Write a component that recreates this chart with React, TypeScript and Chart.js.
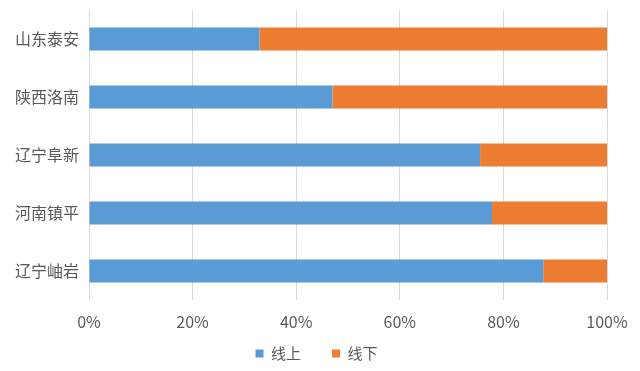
import React, { useEffect, useRef } from "react";
import { Chart, registerables } from "chart.js";

Chart.register(...registerables);

const categories = ["山东泰安", "陕西洛南", "辽宁阜新", "河南镇平", "辽宁岫岩"];
const onlineValues = [32.9, 47.0, 75.5, 77.8, 87.7];
const offlineValues = [67.1, 53.0, 24.5, 22.2, 12.3];
const seriesNames = ["线上", "线下"];
const xTicks = [0, 20, 40, 60, 80, 100];

const FONT = '"Noto Sans CJK SC", "Noto Sans", sans-serif';
const TEXT = "#595959";

const legendPlacer = {
  id: "legendPlacer",
  afterLayout(chart: any) {
    const lg = chart.legend;
    if (!lg) return;
    const dx = 13;
    const newTop = 315;
    lg.left += dx;
    lg.right += dx;
    const h = lg.bottom - lg.top;
    lg.top = newTop;
    lg.bottom = newTop + h;
  },
};

export default function App() {
  const ref = useRef<HTMLCanvasElement | null>(null);
  useEffect(() => {
    if (!ref.current) return;
    const chart = new Chart(ref.current, {
      type: "bar",
      data: {
        labels: categories,
        datasets: [
          { label: seriesNames[0], data: onlineValues, backgroundColor: "#5B9BD5", categoryPercentage: 1, barPercentage: 0.395 },
          { label: seriesNames[1], data: offlineValues, backgroundColor: "#ED7D31", categoryPercentage: 1, barPercentage: 0.395 },
        ],
      },
      options: {
        indexAxis: "y",
        animation: false,
        responsive: false,
        maintainAspectRatio: false,
        layout: { padding: { left: 0, right: 33, top: 10, bottom: -21 } },
        scales: {
          x: {
            stacked: true,
            min: 0,
            max: 100,
            afterBuildTicks: (s: any) => {
              s.ticks = xTicks.map((v) => ({ value: v }));
            },
            ticks: {
              callback: (v: any) => v + "%",
              color: TEXT,
              font: { family: FONT, size: 16 },
              padding: 12,
              maxRotation: 0,
            },
            grid: { color: "#d9d9d9", drawTicks: false, lineWidth: 1 },
            border: { display: false },
            afterFit: (s: any) => {
              s.height = 36;
            },
          },
          y: {
            stacked: true,
            ticks: {
              color: TEXT,
              font: { family: FONT, size: 16 },
              padding: 10,
            },
            grid: { display: false, drawTicks: false },
            border: { display: false },
            afterFit: (s: any) => {
              s.width = 89;
              s.paddingTop = 0;
              s.paddingBottom = 0;
            },
          },
        },
        plugins: {
          legend: {
            position: "bottom",
            labels: {
              boxWidth: 8,
              boxHeight: 8,
              padding: 31,
              color: TEXT,
              font: { family: FONT, size: 15 },
            },
          },
          tooltip: { enabled: false },
        },
      },
      plugins: [legendPlacer],
    });
    return () => chart.destroy();
  }, []);
  return (
    <div style={{ position: "absolute", left: 0, top: 0, width: 640, height: 371, background: "#fff" }}>
      <canvas ref={ref} width={640} height={371} style={{ width: 640, height: 371 }} />
    </div>
  );
}
